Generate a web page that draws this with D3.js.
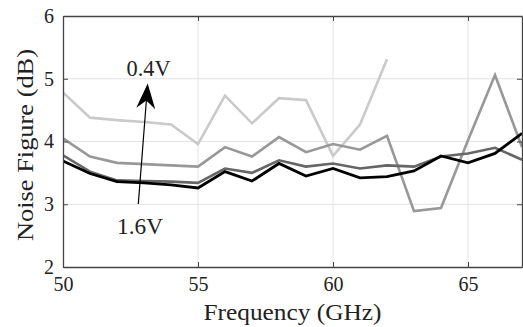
<!DOCTYPE html>
<html>
<head>
<meta charset="utf-8">
<script src="https://cdn.jsdelivr.net/npm/d3@7.9.0/dist/d3.min.js"></script>
<style>
  body { margin: 0; background: #fff; }
  svg text { font-family: 'Liberation Serif', 'DejaVu Serif', serif !important; fill: #222; }
</style>
</head>
<body>
<svg id="chart" width="523" height="327"></svg>
<script>
// frequency points (GHz)
const freq = d3.range(50, 68);

// noise figure (dB), one array per bias, from 0.4V up to 1.6V
const nf04 = [4.78, 4.38, 4.34, 4.31, 4.27, 3.96, 4.73, 4.29, 4.69, 4.66, 3.77, 4.27, 5.31];
const nf08 = [4.05, 3.76, 3.66, 3.64, 3.62, 3.60, 3.91, 3.76, 4.07, 3.83, 3.96, 3.87, 4.09, 2.89, 2.94, 4.02, 5.06, 3.91];
const nf12 = [3.78, 3.52, 3.38, 3.37, 3.36, 3.34, 3.57, 3.50, 3.70, 3.60, 3.65, 3.57, 3.62, 3.60, 3.76, 3.81, 3.90, 3.71];
const nf16 = [3.69, 3.49, 3.36, 3.34, 3.31, 3.26, 3.52, 3.37, 3.65, 3.45, 3.57, 3.42, 3.44, 3.53, 3.77, 3.66, 3.81, 4.13];

const series = [
  { values: nf04, color: '#cacaca', width: 2.6 },
  { values: nf08, color: '#989898', width: 2.6 },
  { values: nf12, color: '#666666', width: 2.6 },
  { values: nf16, color: '#000000', width: 2.8 }
];

const xTicks = [50, 55, 60, 65];
const yTicks = [2, 3, 4, 5, 6];

const serif = "'Liberation Serif', 'DejaVu Serif', serif";
const svg = d3.select('#chart').attr('font-family', serif);
const pLeft = 63, pRight = 522, pTop = 16, pBottom = 267;

let x = d3.scaleLinear().domain([50, 67]).range([pLeft, pRight]);
let y = d3.scaleLinear().domain([2, 6]).range([pBottom, pTop]);

// grid
svg.append('g').selectAll('line').data(xTicks.slice(1)).join('line')
  .attr('x1', d => x(d)).attr('x2', d => x(d))
  .attr('y1', pTop).attr('y2', pBottom)
  .attr('stroke', '#e3e3e3').attr('stroke-width', 1);
svg.append('g').selectAll('line').data(yTicks.slice(1, -1)).join('line')
  .attr('x1', pLeft).attr('x2', pRight)
  .attr('y1', d => y(d)).attr('y2', d => y(d))
  .attr('stroke', '#e3e3e3').attr('stroke-width', 1);

// data lines
let line = d3.line()
  .x((d, i) => x(freq[i]))
  .y(d => y(d));

const plot = svg.append('g');
plot.append('clipPath').attr('id', 'clip')
  .append('rect').attr('x', pLeft).attr('y', pTop)
  .attr('width', pRight - pLeft + 2).attr('height', pBottom - pTop);

series.forEach(s => {
  plot.append('path')
    .attr('d', line(s.values))
    .attr('fill', 'none')
    .attr('stroke', s.color)
    .attr('stroke-width', s.width)
    .attr('stroke-linejoin', 'miter')
    .attr('clip-path', 'url(#clip)');
});

// axes box with inward ticks
const axisColor = '#444';
const tickLen = 5;
let xAxisB = d3.axisBottom(x).tickValues(xTicks).tickSizeInner(-tickLen).tickSizeOuter(0).tickPadding(10).tickFormat(d3.format('d'));
let xAxisT = d3.axisTop(x).tickValues(xTicks).tickSizeInner(-tickLen).tickSizeOuter(0).tickFormat('');
let yAxisL = d3.axisLeft(y).tickValues(yTicks).tickSizeInner(-tickLen).tickSizeOuter(0).tickPadding(9).tickFormat(d3.format('d'));
let yAxisR = d3.axisRight(y).tickValues(yTicks).tickSizeInner(-tickLen).tickSizeOuter(0).tickFormat('');

const gB = svg.append('g').attr('transform', `translate(0,${pBottom})`).call(xAxisB);
const gT = svg.append('g').attr('transform', `translate(0,${pTop})`).call(xAxisT);
const gL = svg.append('g').attr('transform', `translate(${pLeft},0)`).call(yAxisL);
const gR = svg.append('g').attr('transform', `translate(${pRight},0)`).call(yAxisR);

[gB, gT, gL, gR].forEach(g => {
  g.attr('font-family', serif).attr('font-size', 20);
  g.select('.domain').attr('stroke', axisColor).attr('stroke-width', 1.3);
  g.selectAll('.tick line').attr('stroke', axisColor).attr('stroke-width', 1);
  g.selectAll('.tick text').attr('font-size', 20).attr('fill', '#222');
});

// text with its width pinned to what the reference shows
function label(txt, size, width) {
  return svg.append('text')
    .attr('text-anchor', 'middle').attr('font-size', size)
    .attr('textLength', width).attr('lengthAdjust', 'spacingAndGlyphs')
    .text(txt);
}

label('Frequency (GHz)', 23, 178)
  .attr('x', (pLeft + pRight) / 2).attr('y', 320);
label('Noise Figure (dB)', 23, 192)
  .attr('transform', 'translate(33,145) rotate(-90)');

// annotation arrow
const arrowFrom = [138.3, 204], arrowTo = [147.7, 83.5];
const ang = Math.atan2(arrowTo[1] - arrowFrom[1], arrowTo[0] - arrowFrom[0]);
svg.append('line')
  .attr('x1', arrowFrom[0]).attr('y1', arrowFrom[1])
  .attr('x2', arrowTo[0] - 16 * Math.cos(ang)).attr('y2', arrowTo[1] - 16 * Math.sin(ang))
  .attr('stroke', '#000').attr('stroke-width', 1.2);
svg.append('path')
  .attr('d', 'M0,0 L-25,-9.5 L-17,0 L-25,9.5 Z')
  .attr('transform', `translate(${arrowTo[0]},${arrowTo[1]}) rotate(${ang * 180 / Math.PI})`)
  .attr('fill', '#000');

label('0.4V', 23, 44).attr('x', 148.5).attr('y', 76);
label('1.6V', 23, 46).attr('x', 140).attr('y', 234);
</script>
</body>
</html>
